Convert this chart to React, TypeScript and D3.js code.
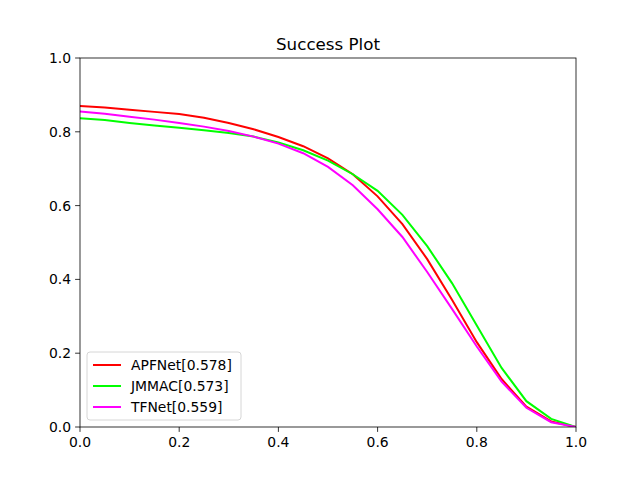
import React from "react";
import * as d3 from "d3";

const thresholds = d3.range(0, 21).map((i) => i / 20);
const apfnet = [0.870, 0.866, 0.860, 0.854, 0.848, 0.838, 0.824, 0.807, 0.786, 0.761, 0.728, 0.685, 0.625, 0.550, 0.455, 0.345, 0.230, 0.130, 0.055, 0.015, 0];
const jmmac = [0.837, 0.832, 0.824, 0.817, 0.811, 0.804, 0.797, 0.787, 0.771, 0.750, 0.722, 0.685, 0.640, 0.575, 0.490, 0.390, 0.275, 0.160, 0.070, 0.022, 0];
const tfnet = [0.855, 0.849, 0.841, 0.833, 0.824, 0.814, 0.802, 0.787, 0.768, 0.742, 0.705, 0.655, 0.590, 0.515, 0.420, 0.320, 0.218, 0.123, 0.052, 0.013, 0];
const seriesNames = ["APFNet[0.578]", "JMMAC[0.573]", "TFNet[0.559]"];
const seriesColors = ["#ff0000", "#00ff00", "#ff00ff"];
const ticks = [0, 0.2, 0.4, 0.6, 0.8, 1.0];

export default function App() {
  const W = 640, H = 480;
  const m = {left: 80, right: 64, top: 58, bottom: 53};
  const x = d3.scaleLinear().domain([0, 1]).range([m.left, W - m.right]);
  const y = d3.scaleLinear().domain([0, 1]).range([H - m.bottom, m.top]);
  const line = d3.line<number>().x((_, i) => x(thresholds[i])).y((d) => y(d));
  const all = [apfnet, jmmac, tfnet];
  const font = "DejaVu Sans, sans-serif";
  return (
    <svg width={W} height={H} style={{position: "absolute", left: 0, top: 0}} fontFamily={font}>
      <rect width={W} height={H} fill="#fff" />
      <defs>
        <clipPath id="plot">
          <rect x={m.left} y={m.top} width={x(1) - x(0)} height={y(0) - y(1)} />
        </clipPath>
      </defs>
      <g clipPath="url(#plot)">
        {all.map((s, i) => (
          <path key={i} d={line(s) || ""} fill="none" stroke={seriesColors[i]} strokeWidth={2} />
        ))}
      </g>
      <rect x={m.left} y={m.top} width={x(1) - x(0)} height={y(0) - y(1)} fill="none" stroke="#000" strokeWidth={0.8} />
      {ticks.map((t) => (
        <g key={"x" + t}>
          <line x1={x(t)} x2={x(t)} y1={y(0)} y2={y(0) + 4.9} stroke="#000" strokeWidth={0.8} />
          <text x={x(t)} y={y(0) + 20} fontSize={13.9} textAnchor="middle">{t.toFixed(1)}</text>
          <line x1={x(0) - 4.9} x2={x(0)} y1={y(t)} y2={y(t)} stroke="#000" strokeWidth={0.8} />
          <text x={x(0) - 9} y={y(t) + 5} fontSize={13.9} textAnchor="end">{t.toFixed(1)}</text>
        </g>
      ))}
      <text x={(x(0) + x(1)) / 2} y={m.top - 8} fontSize={16.7} textAnchor="middle">Success Plot</text>
      <g transform="translate(87,352)">
        <rect width={154} height={68} rx={3} fill="#fff" fillOpacity={0.8} stroke="#ccc" strokeWidth={0.8} />
        {seriesNames.map((n, i) => (
          <g key={n} transform={`translate(0,${13 + i * 21})`}>
            <line x1={6} x2={34} y1={0} y2={0} stroke={seriesColors[i]} strokeWidth={2} />
            <text x={44} y={5} fontSize={13.9}>{n}</text>
          </g>
        ))}
      </g>
    </svg>
  );
}
